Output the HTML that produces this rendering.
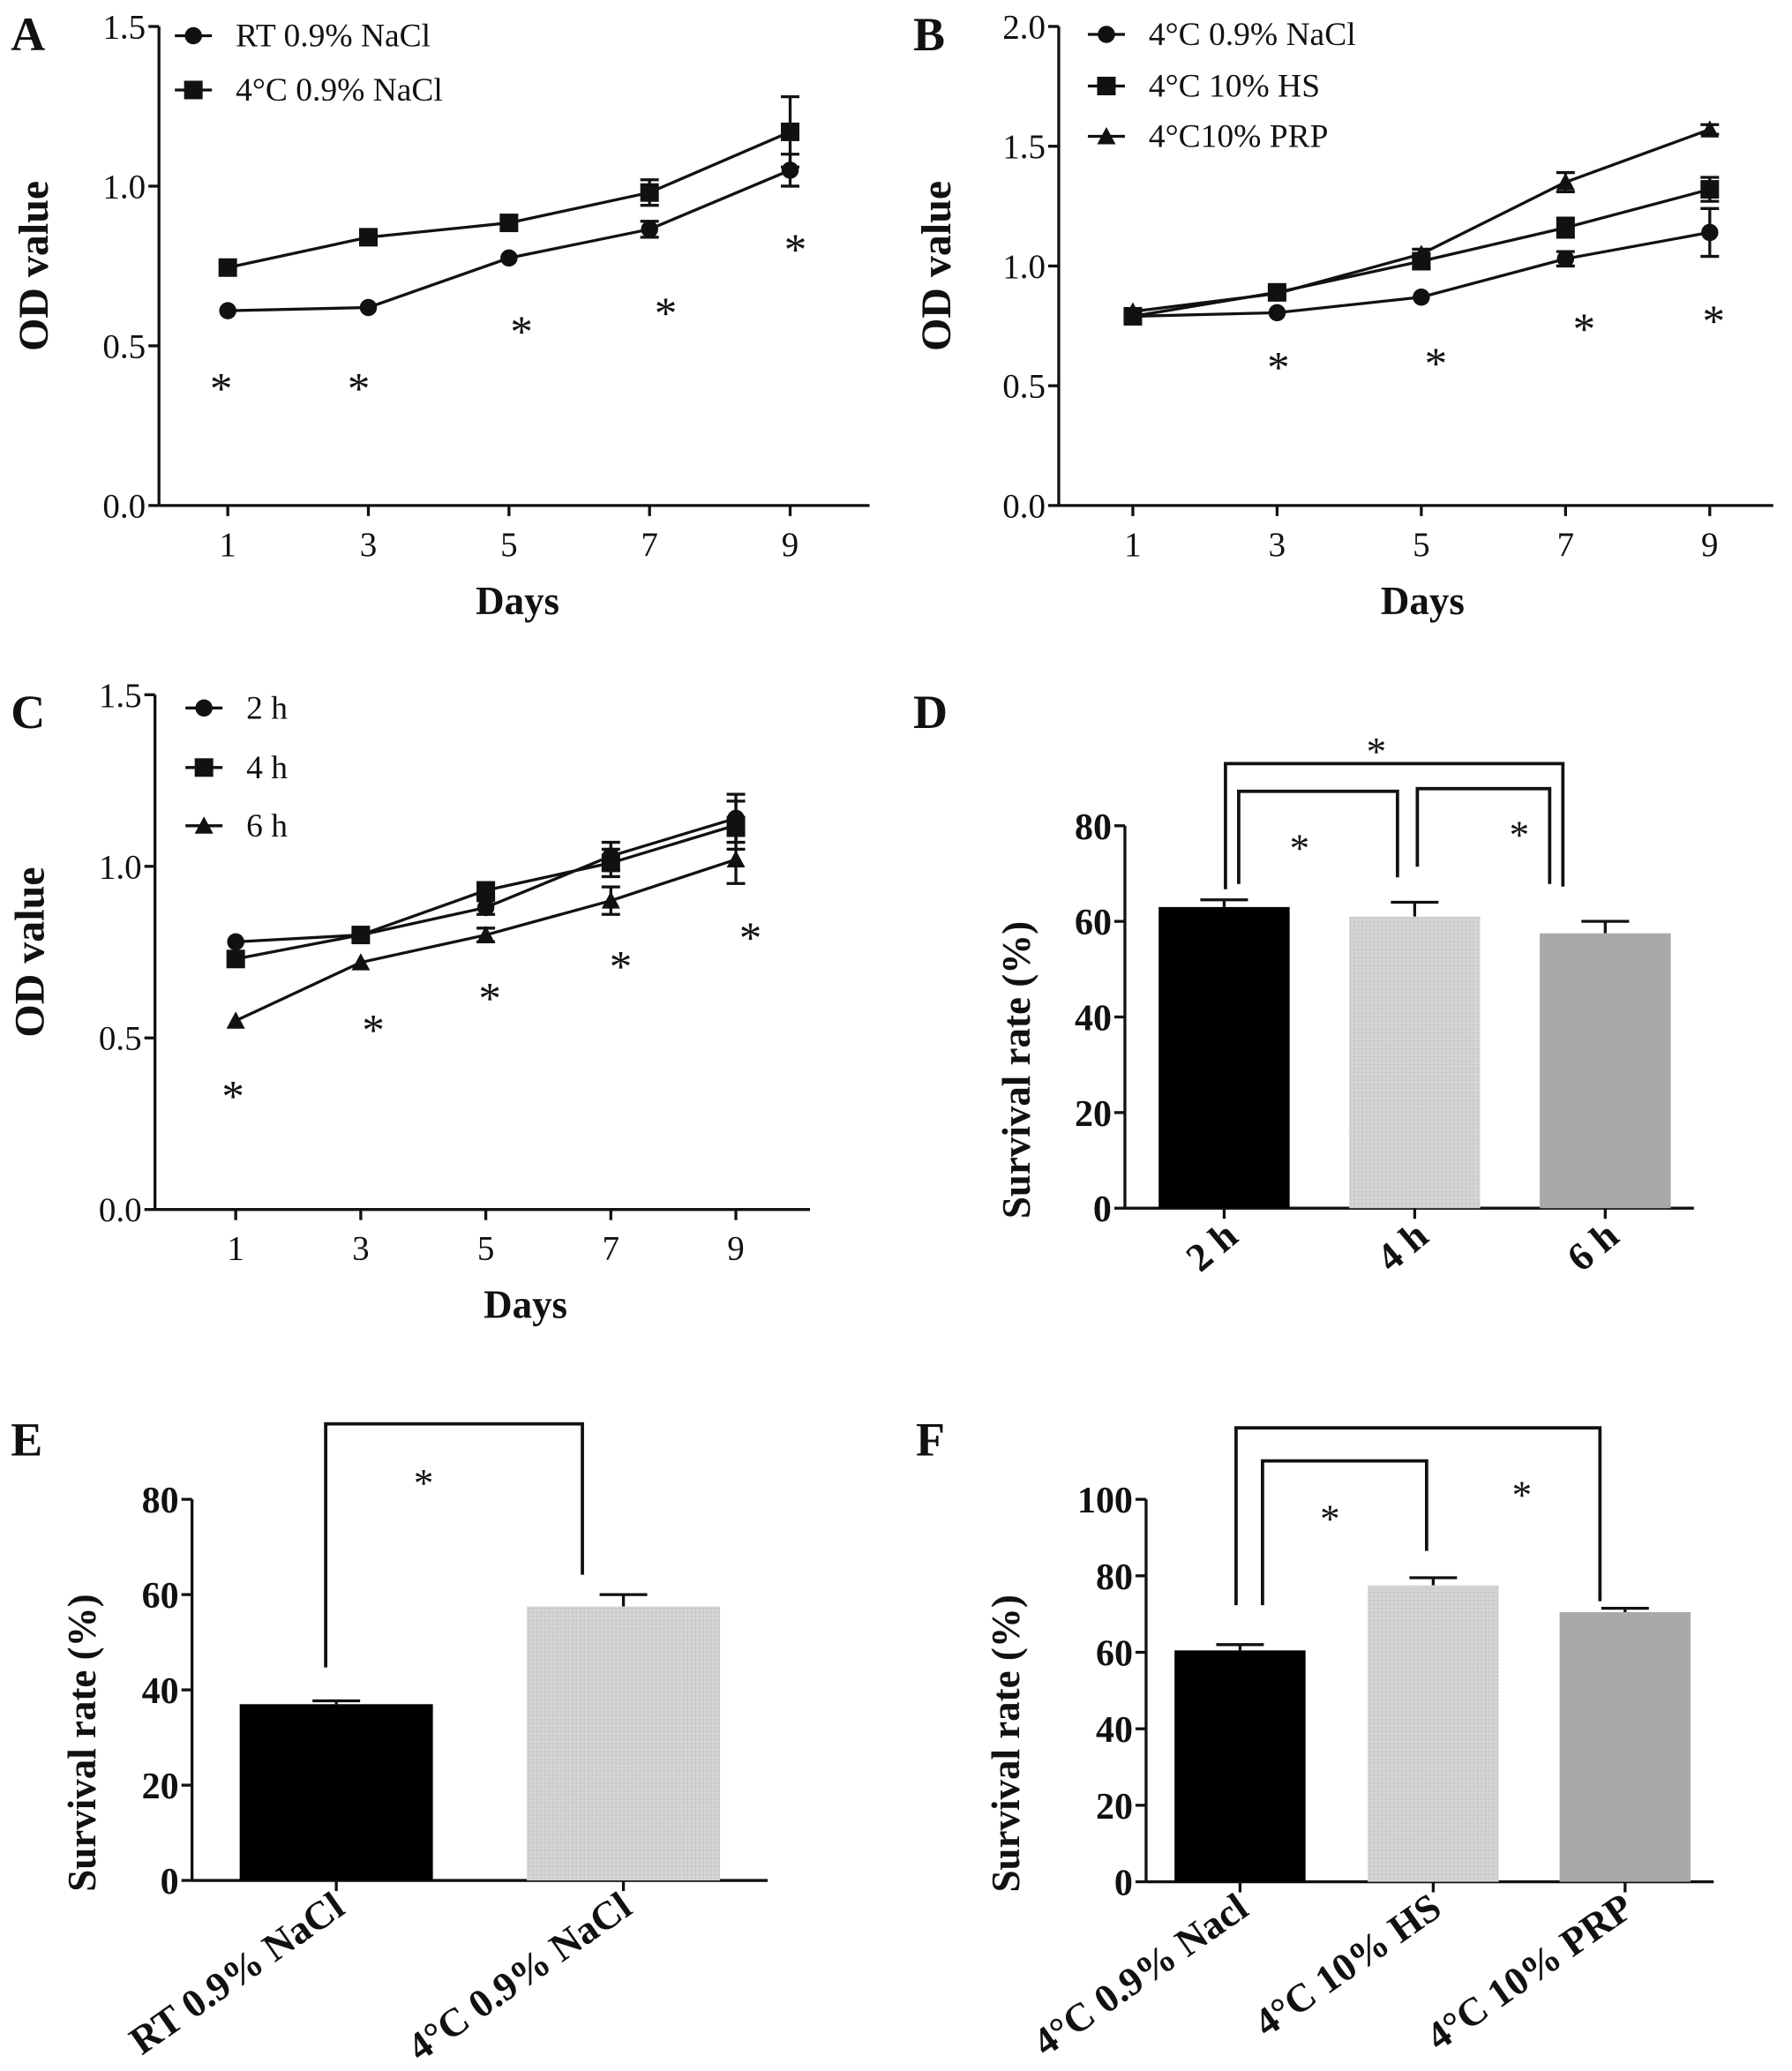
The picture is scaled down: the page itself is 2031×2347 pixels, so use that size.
<!DOCTYPE html>
<html><head><meta charset="utf-8"><style>
html,body{margin:0;padding:0;background:#fff}
svg{display:block}
text{font-family:"Liberation Serif",serif;fill:#111}
</style></head><body>
<svg id="fig" width="2031" height="2347" viewBox="0 0 1354 1565" xmlns="http://www.w3.org/2000/svg">
<defs>
<pattern id="dots" width="3" height="3" patternUnits="userSpaceOnUse"><rect width="3" height="3" fill="#d4d4d4"/><rect width="1" height="1" fill="#bdbdbd"/></pattern>
</defs>
</svg>
<script>
// ---- data ----
const days = [1,3,5,7,9];
const aRT = [0.61,0.62,0.775,0.865,1.05];
const aRTerr = [0.01,0.01,0.01,0.025,0.05];
const a4C = [0.745,0.84,0.885,0.98,1.17];
const a4Cerr = [0.01,0.01,0.01,0.04,0.11];
const bNaCl = [0.79,0.805,0.87,1.03,1.14];
const bNaClErr = [0.01,0.01,0.01,0.03,0.1];
const bHS = [0.79,0.89,1.02,1.16,1.32];
const bHSErr = [0.01,0.02,0.03,0.04,0.05];
const bPRP = [0.81,0.885,1.05,1.35,1.57];
const bPRPErr = [0.01,0.01,0.02,0.04,0.02];
const c2h = [0.78,0.80,0.88,1.03,1.14];
const c4h = [0.73,0.80,0.93,1.01,1.12];
const c6h = [0.55,0.72,0.80,0.90,1.02];
const cErr = [0.01,0.01,0.02,0.04,0.07];
const dCats = ["2 h","4 h","6 h"];
const dVals = [63,61,57.5];
const dErr = [1.5,3,2.5];
const eCats = ["RT 0.9% NaCl","4°C 0.9% NaCl"];
const eVals = [37,57.5];
const eErr = [0.7,2.5];
const fCats = ["4°C 0.9% Nacl","4°C 10% HS","4°C 10% PRP"];
const fVals = [60.5,77.5,70.5];
const fErr = [1.5,2,1];

const svg=document.getElementById('fig');
const NS="http://www.w3.org/2000/svg";
function el(tag,attrs,name,parent){const e=document.createElementNS(NS,tag);for(const k in attrs)e.setAttribute(k,attrs[k]);


(parent||svg).appendChild(e);return e;}
function txt(x,y,s,size,name,extra){const t=el('text',Object.assign({x:x,y:y,'font-size':size},extra||{}),name);t.textContent=s;return t;}
function line(x1,y1,x2,y2,name,w){return el('line',{x1,y1,x2,y2,stroke:'#111','stroke-width':w||2.2},name);}
function marker(type,x,y,name){
 if(type==='circle')el('circle',{cx:x,cy:y,r:6.5,fill:'#111'},name);
 else if(type==='square')el('rect',{x:x-7,y:y-7,width:14,height:14,fill:'#111'},name);
 else el('polygon',{points:`${x},${y-7} ${x+7},${y+6} ${x-7},${y+6}`,fill:'#111'},name);
}
function lineChart(o){
 const sx=d=>o.x1+(d-1)/8*(o.x9-o.x1);
 const sy=v=>o.y0-v/o.ymax*(o.y0-o.ytop);
 line(o.ax,o.ytop,o.ax,o.y0,o.id+'-y-axis');
 line(o.ax,o.y0,o.xend,o.y0,o.id+'-x-axis');
 o.yt.forEach(v=>{line(o.ax-8,sy(v),o.ax,sy(v),o.id+'-y-tick');txt(o.ax-10,sy(v)+9,v.toFixed(1),26,o.id+'-y-tick-label',{'text-anchor':'end'});});
 days.forEach(d=>{line(sx(d),o.y0,sx(d),o.y0+8,o.id+'-x-tick');txt(sx(d),o.y0+38,String(d),26,o.id+'-x-tick-label',{'text-anchor':'middle'});});
 txt(o.daysX,o.y0+82,'Days',30,o.id+'-x-axis-title',{'text-anchor':'middle','font-weight':'bold'});
 const cy=(o.ytop+o.y0)/2;
 txt(o.ylx,cy,'OD value',32,o.id+'-y-axis-title',{'text-anchor':'middle','font-weight':'bold',transform:`rotate(-90 ${o.ylx} ${cy})`});
 txt(o.lx,o.ly,o.letter,36,o.id+'-panel-label',{'font-weight':'bold'});
 o.series.forEach((s,si)=>{
  const pts=days.map((d,i)=>sx(d)+','+sy(s.v[i])).join(' ');
  el('polyline',{points:pts,fill:'none',stroke:'#111','stroke-width':2.2},o.id+'-line-'+s.key);
  days.forEach((d,i)=>{
   const x=sx(d),e=s.e[i];
   if(e>0.015){line(x,sy(s.v[i]-e),x,sy(s.v[i]+e),o.id+'-errbar');line(x-7,sy(s.v[i]+e),x+7,sy(s.v[i]+e),o.id+'-errcap');line(x-7,sy(s.v[i]-e),x+7,sy(s.v[i]-e),o.id+'-errcap');}
   marker(s.m,x,sy(s.v[i]),o.id+'-point-'+s.key);
  });
  const ly=o.legY[si];
  line(o.legX,ly,o.legX+28,ly,o.id+'-legend-line');marker(s.m,o.legX+14,ly,o.id+'-legend-marker');
  txt(o.legX+46,ly+8,s.label,25,o.id+'-legend-label');
 });
 o.stars.forEach(p=>txt(p[0],p[1],'*',34,o.id+'-significance-star',{'text-anchor':'middle'}));
}
lineChart({id:'a',letter:'A',lx:8,ly:38,ax:120,ytop:20,y0:382,ymax:1.5,yt:[0,0.5,1,1.5],x1:172,x9:597,xend:657,ylx:36,daysX:391,
 legX:132,legY:[27,68],
 series:[{key:'rt',label:'RT 0.9% NaCl',m:'circle',v:aRT,e:aRTerr},{key:'4c',label:'4°C  0.9% NaCl',m:'square',v:a4C,e:a4Cerr}],
 stars:[[167,305],[271,305],[394,262],[503,248],[601,200]]});
lineChart({id:'b',letter:'B',lx:690,ly:38,ax:800,ytop:20,y0:382,ymax:2,yt:[0,0.5,1,1.5,2],x1:856,x9:1292,xend:1340,ylx:718,daysX:1075,
 legX:822,legY:[26,65,103],
 series:[{key:'nacl',label:'4°C 0.9% NaCl',m:'circle',v:bNaCl,e:bNaClErr},{key:'hs',label:'4°C 10% HS',m:'square',v:bHS,e:bHSErr},{key:'prp',label:'4°C10% PRP',m:'tri',v:bPRP,e:bPRPErr}],
 stars:[[966,289],[1085,286],[1197,260],[1295,254]]});
lineChart({id:'c',letter:'C',lx:8,ly:550,ax:117,ytop:525,y0:914,ymax:1.5,yt:[0,0.5,1,1.5],x1:178,x9:556,xend:612,ylx:33,daysX:397,
 legX:140,legY:[535,580,624],
 series:[{key:'2h',label:'2 h',m:'circle',v:c2h,e:cErr},{key:'4h',label:'4 h',m:'square',v:c4h,e:cErr},{key:'6h',label:'6 h',m:'tri',v:c6h,e:cErr}],
 stars:[[176,840],[282,790],[370,766],[469,742],[567,720]]});

const fills=['#000','url(#dots)','#a9a9a9'];
function barChart(o){
 const sy=v=>o.y0-v/o.ymax*(o.y0-o.ytop);
 line(o.ax,o.ytop,o.ax,o.y0,o.id+'-y-axis');
 line(o.ax,o.y0,o.xend,o.y0,o.id+'-x-axis');
 o.yt.forEach(v=>{line(o.ax-8,sy(v),o.ax,sy(v),o.id+'-y-tick');txt(o.ax-10,sy(v)+10,String(v),28,o.id+'-y-tick-label',{'text-anchor':'end','font-weight':'bold'});});
 o.cats.forEach((c,i)=>{
  const cx=o.cx[i],v=o.vals[i],e=o.err[i];
  line(cx,sy(v),cx,sy(v+e),o.id+'-errbar');line(cx-18,sy(v+e),cx+18,sy(v+e),o.id+'-errcap');
  el('rect',{x:cx-o.bw/2,y:sy(v),width:o.bw,height:o.y0-sy(v),fill:fills[i]},o.id+'-bar-'+i);
  line(cx,o.y0,cx,o.y0+8,o.id+'-x-tick');
  const tx=cx+o.lblDx,ty=o.y0+o.lblDy;
  txt(tx,ty,c,30,o.id+'-x-tick-label',{'text-anchor':'end','font-weight':'bold',transform:`rotate(${o.rot} ${tx} ${ty})`});
 });
 const cy=(o.ytop+o.y0)/2+40;
 txt(o.ylx,cy,'Survival rate (%)',30,o.id+'-y-axis-title',{'text-anchor':'middle','font-weight':'bold',transform:`rotate(-90 ${o.ylx} ${cy})`});
 txt(o.lx,o.ly,o.letter,36,o.id+'-panel-label',{'font-weight':'bold'});
 o.brackets.forEach(b=>el('polyline',{points:`${b[0]},${b[3]} ${b[0]},${b[2]} ${b[1]},${b[2]} ${b[1]},${b[4]}`,fill:'none',stroke:'#111','stroke-width':2.5},o.id+'-significance-bracket'));
 o.stars.forEach(p=>txt(p[0],p[1],'*',30,o.id+'-significance-star',{'text-anchor':'middle'}));
}
barChart({id:'d',letter:'D',lx:690,ly:550,ax:850,ytop:624,y0:913,ymax:80,yt:[0,20,40,60,80],xend:1280,cats:dCats,vals:dVals,err:dErr,
 cx:[925,1069,1213],bw:99,lblDx:12,lblDy:24,rot:-40,ylx:778,
 brackets:[[926,1181,577,672,670],[936,1056,598,668,663],[1071,1171,596,655,668]],
 stars:[[1040,578],[982,651],[1148,641]]});
barChart({id:'e',letter:'E',lx:8,ly:1100,ax:145,ytop:1133,y0:1421,ymax:80,yt:[0,20,40,60,80],xend:580,cats:eCats,vals:eVals,err:eErr,
 cx:[254,471],bw:146,lblDx:8,lblDy:24,rot:-35,ylx:72,
 brackets:[[246,440,1076,1260,1190]],
 stars:[[320,1131]]});
barChart({id:'f',letter:'F',lx:692,ly:1100,ax:866,ytop:1133,y0:1422,ymax:100,yt:[0,20,40,60,80,100],xend:1295,cats:fCats,vals:fVals,err:fErr,
 cx:[937,1083,1228],bw:99,lblDx:8,lblDy:24,rot:-35,ylx:770,
 brackets:[[934,1209,1079,1213,1210],[954,1078,1104,1213,1172]],
 stars:[[1005,1158],[1150,1140]]});
</script>
</body></html>
